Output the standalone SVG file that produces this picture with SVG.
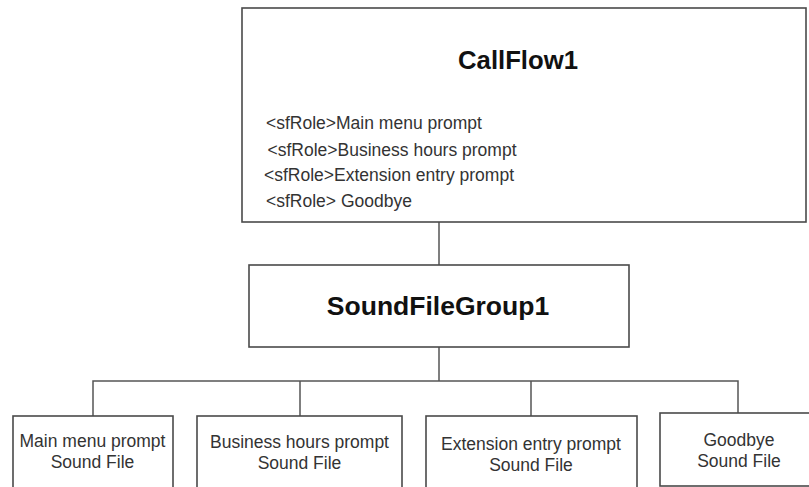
<svg xmlns="http://www.w3.org/2000/svg" width="809" height="487" viewBox="0 0 809 487">
<style>
.box{fill:#fff;stroke:#4a4a4a;stroke-width:1.6}
.con{fill:none;stroke:#555;stroke-width:1.5}
.title{font-family:"Liberation Sans",Arial,sans-serif;font-weight:bold;fill:#111}
.t{font-family:"Liberation Sans",Arial,sans-serif;font-size:17.5px;fill:#333}
.c{text-anchor:middle}
</style>
<rect width="809" height="487" fill="#fff"/>
<g id="connectors">
<line class="con" x1="439" y1="222" x2="439" y2="265"/>
<line class="con" x1="439" y1="347" x2="439" y2="381"/>
<polyline class="con" points="93,416 93,381 738,381 738,413"/>
<line class="con" x1="300" y1="381" x2="300" y2="416"/>
<line class="con" x1="531" y1="381" x2="531" y2="416"/>
</g>
<g id="callflow1">
<rect class="box" x="242" y="8" width="564" height="214"/>
<text class="title c" x="518" y="69" font-size="25.7">CallFlow1</text>
<text class="t" x="266" y="129">&lt;sfRole&gt;Main menu prompt</text>
<text class="t" x="267.5" y="156">&lt;sfRole&gt;Business hours prompt</text>
<text class="t" x="264" y="181">&lt;sfRole&gt;Extension entry prompt</text>
<text class="t" x="266" y="206.5">&lt;sfRole&gt; Goodbye</text>
</g>
<g id="soundfilegroup1">
<rect class="box" x="249" y="265" width="380" height="82"/>
<text class="title c" x="438" y="315" font-size="26.5">SoundFileGroup1</text>
</g>
<g id="mainmenu">
<rect class="box" x="13" y="416" width="160" height="80"/>
<text class="t c" x="92.5" y="447">Main menu prompt</text>
<text class="t c" x="92.5" y="468">Sound File</text>
</g>
<g id="business">
<rect class="box" x="197" y="416" width="205" height="80"/>
<text class="t c" x="299.5" y="448">Business hours prompt</text>
<text class="t c" x="299.5" y="469">Sound File</text>
</g>
<g id="extension">
<rect class="box" x="426" y="416" width="211" height="80"/>
<text class="t c" x="531" y="450">Extension entry prompt</text>
<text class="t c" x="531" y="471">Sound File</text>
</g>
<g id="goodbye">
<rect class="box" x="660" y="413" width="160" height="73"/>
<text class="t c" x="739" y="446">Goodbye</text>
<text class="t c" x="739" y="467">Sound File</text>
</g>
</svg>
